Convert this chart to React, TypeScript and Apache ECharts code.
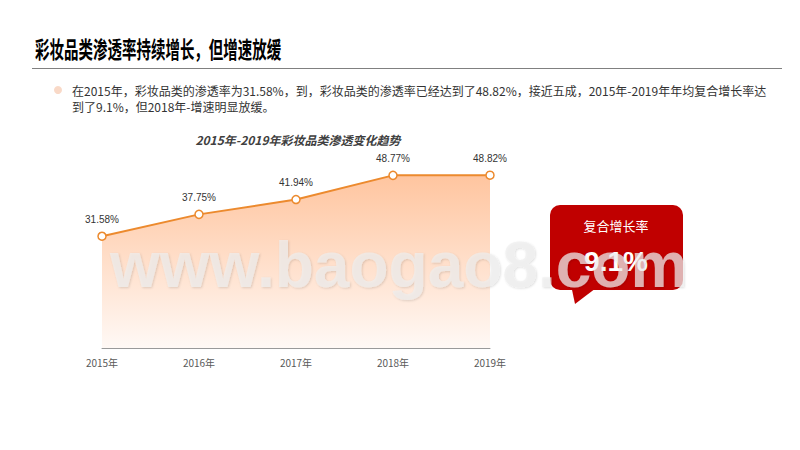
import React, { useEffect, useRef } from "react";
import * as echarts from "echarts";

const years = ["2015年", "2016年", "2017年", "2018年", "2019年"];
const penetration = [31.58, 37.75, 41.94, 48.77, 48.82];
const pageTitle = "彩妆品类渗透率持续增长，但增速放缓";
const bodyLines = [
  "在2015年，彩妆品类的渗透率为31.58%，到，彩妆品类的渗透率已经达到了48.82%，接近五成，2015年-2019年年均复合增长率达",
  "到了9.1%，但2018年-增速明显放缓。",
];
const chartTitle = "2015年-2019年彩妆品类渗透变化趋势";
const calloutLabel = "复合增长率";
const calloutValue = "9.1%";
const watermark = "www.baogao8.com";

export default function App() {
  const ref = useRef<HTMLDivElement>(null);
  useEffect(() => {
    if (!ref.current) return;
    const chart = echarts.init(ref.current, null, { renderer: "svg" });
    const cjk = '"Noto Sans CJK SC", "Liberation Sans", Arial, sans-serif';
    chart.setOption({
      animation: false,
      backgroundColor: "#ffffff",
      grid: { left: 102, right: 310, top: 171, bottom: 102 },
      xAxis: {
        type: "category",
        data: years,
        boundaryGap: false,
        axisTick: { show: false },
        axisLine: { lineStyle: { color: "#9a9a9a", width: 1 } },
        axisLabel: { color: "#595959", fontSize: 10, margin: 9, fontFamily: cjk },
      },
      yAxis: {
        type: "value",
        min: 0,
        max: 50,
        show: false,
        splitLine: { show: false },
      },
      series: [
        {
          type: "line",
          data: penetration,
          symbol: "circle",
          symbolSize: 8,
          itemStyle: { color: "#ffffff", borderColor: "#ec8a2e", borderWidth: 1.5 },
          lineStyle: { color: "#ec8a2e", width: 2 },
          areaStyle: {
            color: new echarts.graphic.LinearGradient(0, 0, 0, 1, [
              { offset: 0, color: "#ffac76" },
              { offset: 1, color: "#fff6f1" },
            ]),
          },
          label: {
            show: true,
            position: "top",
            distance: 7,
            fontSize: 10,
            color: "#333333",
            fontFamily: '"Liberation Sans", Arial, sans-serif',
            formatter: (p: any) => p.value.toFixed(2) + "%",
          },
        },
      ],
      graphic: [
        {
          type: "text",
          x: 35,
          y: 48,
          scaleX: 0.63,
          style: {
            text: pageTitle,
            font: 'bold 23px "Noto Sans CJK SC", sans-serif',
            fill: "#000000",
            textAlign: "left",
            textVerticalAlign: "middle",
          },
        },
        {
          type: "line",
          shape: { x1: 32, y1: 68.5, x2: 782, y2: 68.5 },
          style: { stroke: "#808080", lineWidth: 1 },
        },
        {
          type: "circle",
          shape: { cx: 58, cy: 90, r: 4 },
          style: { fill: "#f9d9c7" },
        },
        ...bodyLines.map((t, i) => ({
          type: "text",
          x: 72,
          y: 90 + i * 16,
          style: {
            text: t,
            font: '12px "Noto Sans CJK SC", sans-serif',
            fill: "#333333",
            textAlign: "left",
            textVerticalAlign: "middle",
          },
        })),
        {
          type: "text",
          x: 298,
          y: 139,
          style: {
            text: chartTitle,
            font: 'italic bold 12px "Noto Sans CJK SC", sans-serif',
            fill: "#404040",
            textAlign: "center",
            textVerticalAlign: "middle",
          },
        },
        {
          type: "rect",
          shape: { x: 550, y: 205, width: 133, height: 85, r: 10 },
          style: { fill: "#c00000" },
        },
        {
          type: "polygon",
          shape: { points: [[571, 285], [600, 285], [575, 304]] },
          style: { fill: "#c00000" },
        },
        {
          type: "text",
          x: 616,
          y: 225,
          style: {
            text: calloutLabel,
            font: '13px "Noto Sans CJK SC", sans-serif',
            fill: "#ffffff",
            textAlign: "center",
            textVerticalAlign: "middle",
          },
        },
        {
          type: "text",
          x: 616,
          y: 261,
          style: {
            text: calloutValue,
            font: 'bold 28px "Liberation Sans", Arial, sans-serif',
            fill: "#ffffff",
            textAlign: "center",
            textVerticalAlign: "middle",
          },
        },
        {
          type: "text",
          x: 110,
          y: 265,
          z: 100,
          style: {
            text: watermark,
            font: 'bold 64px "Liberation Sans", Arial, sans-serif',
            fill: "rgba(238,238,238,0.72)",
            textAlign: "left",
            textVerticalAlign: "middle",
            textShadowColor: "rgba(0,0,0,0.18)",
            textShadowBlur: 2,
            textShadowOffsetX: 1,
            textShadowOffsetY: 1,
          },
        },
      ],
    });
    return () => chart.dispose();
  }, []);
  return <div ref={ref} style={{ width: 800, height: 450, position: "absolute", left: 0, top: 0 }} />;
}
